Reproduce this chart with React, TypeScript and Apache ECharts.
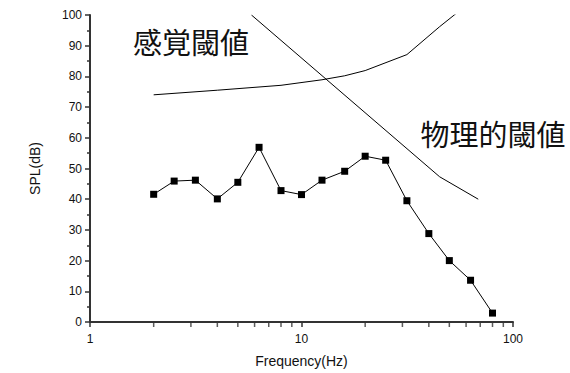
import React, { useEffect, useRef } from "react";
import * as echarts from "echarts";

// Measured SPL (1/3 octave bands)
const bandFreqs = [2, 2.5, 3.15, 4, 5, 6.3, 8, 10, 12.5, 16, 20, 25, 31.5, 40, 50, 63, 80];
const splValues = [41.6, 45.9, 46.2, 40.1, 45.5, 56.9, 42.8, 41.5, 46.2, 49.1, 54, 52.7, 39.5, 28.8, 20, 13.6, 2.9];

// 感覚閾値 (sensory threshold)
const sensoryFreqs = [2, 4, 8, 12.5, 16, 20, 31.5, 45, 55];
const sensoryValues = [74, 75.5, 77.1, 78.9, 80.2, 81.9, 87.1, 96.2, 101];

// 物理的閾値 (physical threshold)
const physicalFreqs = [5.8, 45, 68.5];
const physicalValues = [100, 47.3, 40];

// log-axis minor tick positions
const minorTickFreqs = [2, 3, 4, 5, 6, 7, 8, 9, 20, 30, 40, 50, 60, 70, 80, 90];

const sensoryLabel = "感覚閾値";
const physicalLabel = "物理的閾値";

const LATIN = "'Liberation Sans', Arial, sans-serif";
const CJK = "'Noto Sans CJK JP', sans-serif";

export default function App() {
  const ref = useRef<HTMLDivElement>(null);
  useEffect(() => {
    if (!ref.current) return;
    const chart = echarts.init(ref.current, null, { renderer: "svg" });
    const axisColor = "#333";
    chart.setOption({
      animation: false,
      backgroundColor: "#fff",
      grid: { left: 90, right: 57, top: 15, bottom: 48 },
      xAxis: {
        type: "log",
        logBase: 10,
        min: 1,
        max: 100,
        name: "Frequency(Hz)",
        nameLocation: "middle",
        nameGap: 32,
        nameTextStyle: { fontFamily: LATIN, fontSize: 14, color: "#111" },
        axisLine: { show: true, onZero: false, lineStyle: { color: axisColor, width: 2 } },
        axisTick: { show: true, inside: false, length: 5, lineStyle: { color: axisColor, width: 1.5 } },
        minorTick: { show: false },
        splitLine: { show: false },
        axisLabel: { fontFamily: LATIN, fontSize: 12, color: "#111", margin: 11 },
      },
      yAxis: {
        type: "value",
        min: 0,
        max: 100,
        interval: 10,
        name: "SPL(dB)",
        nameLocation: "middle",
        nameGap: 48,
        nameTextStyle: { fontFamily: LATIN, fontSize: 14, color: "#111" },
        axisLine: { show: true, lineStyle: { color: axisColor, width: 2 } },
        axisTick: { show: true, length: 5, lineStyle: { color: axisColor, width: 1.5 } },
        minorTick: { show: true, splitNumber: 2, length: 3, lineStyle: { color: axisColor, width: 1.5 } },
        splitLine: { show: false },
        axisLabel: { fontFamily: LATIN, fontSize: 12, color: "#111", margin: 8 },
      },
      series: [
        {
          type: "line",
          data: bandFreqs.map((f, i) => [f, splValues[i]]),
          symbol: "rect",
          symbolSize: 7,
          showSymbol: true,
          lineStyle: { color: "#000", width: 1 },
          itemStyle: { color: "#000" },
          z: 3,
        },
        {
          type: "line",
          data: sensoryFreqs.map((f, i) => [f, sensoryValues[i]]),
          showSymbol: false,
          symbol: "none",
          lineStyle: { color: "#000", width: 1 },
          clip: true,
        },
        {
          type: "line",
          data: physicalFreqs.map((f, i) => [f, physicalValues[i]]),
          showSymbol: false,
          symbol: "none",
          lineStyle: { color: "#000", width: 1 },
          clip: true,
        },
        {
          type: "scatter",
          data: minorTickFreqs.map((f) => [f, 0]),
          symbol: "rect",
          symbolSize: [1.5, 5],
          symbolOffset: [0, 2.5],
          itemStyle: { color: axisColor },
          clip: false,
          silent: true,
          z: 5,
        },
      ],
      graphic: [
        {
          type: "text",
          x: 191,
          y: 41,
          style: {
            text: sensoryLabel,
            font: `29px ${CJK}`,
            fill: "#111",
            textAlign: "center",
            textVerticalAlign: "middle",
          },
        },
        {
          type: "text",
          x: 493,
          y: 133,
          style: {
            text: physicalLabel,
            font: `29px ${CJK}`,
            fill: "#111",
            textAlign: "center",
            textVerticalAlign: "middle",
          },
        },
      ],
    });
    return () => chart.dispose();
  }, []);
  return <div ref={ref} style={{ width: 570, height: 373, position: "fixed", left: 0, top: 0 }} />;
}
